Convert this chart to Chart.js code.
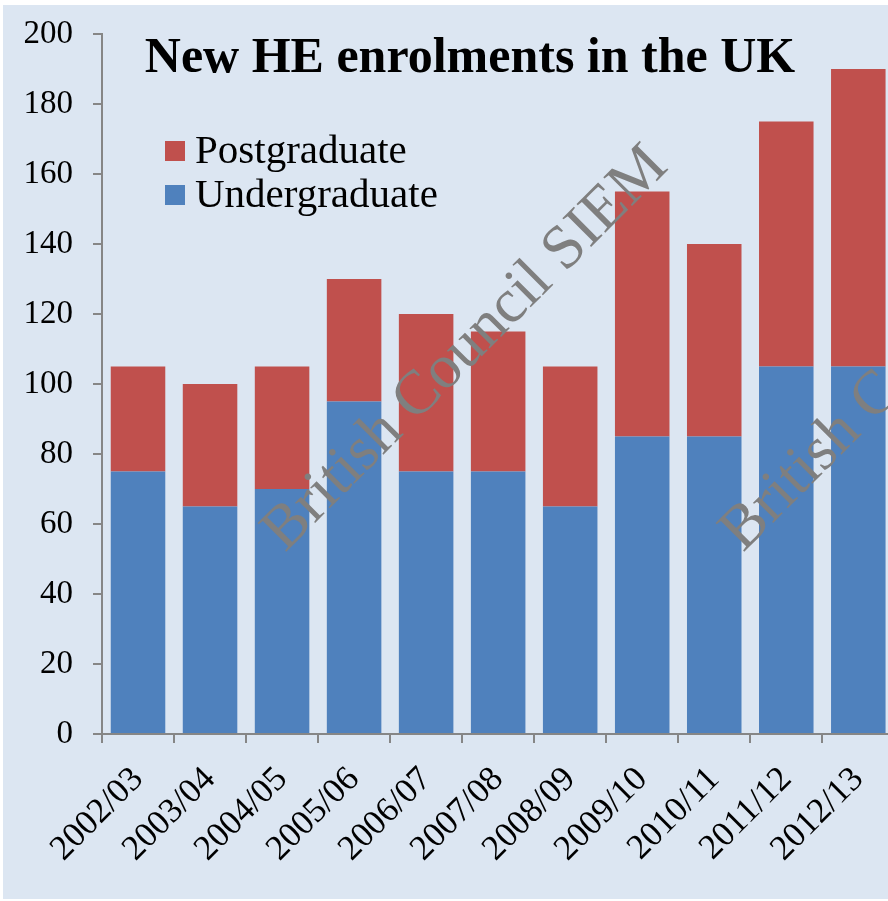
<!DOCTYPE html>
<html>
<head>
<meta charset="utf-8">
<script src="https://cdn.jsdelivr.net/npm/chart.js@4/dist/chart.umd.min.js"></script>
<style>
  html, body { margin: 0; padding: 0; background: #ffffff; overflow: hidden; width: 888px; height: 901px; }
  canvas { display: block; }
</style>
</head>
<body>
<canvas id="c" width="904" height="901"></canvas>
<script>
const categories = ['2002/03','2003/04','2004/05','2005/06','2006/07','2007/08','2008/09','2009/10','2010/11','2011/12','2012/13'];
const undergraduate = [75, 65, 70, 95, 75, 75, 65, 85, 85, 105, 105];
const postgraduate = [30, 35, 35, 35, 45, 40, 40, 70, 55, 70, 85];
const yTicks = [0, 20, 40, 60, 80, 100, 120, 140, 160, 180, 200];
const titleText = 'New HE enrolments in the UK';
const watermarkText = 'British Council SIEM';

const SERIF = '"Liberation Serif", "Times New Roman", serif';
const AXIS_GRAY = '#868686';

const bgPlugin = {
  id: 'bg',
  beforeDraw(chart) {
    const ctx = chart.ctx;
    ctx.save();
    ctx.fillStyle = '#ffffff';
    ctx.fillRect(0, 0, chart.width, chart.height);
    ctx.fillStyle = '#dce6f2';
    ctx.fillRect(3, 5, chart.width - 3, chart.height - 7);
    ctx.restore();
  }
};

const overlayPlugin = {
  id: 'overlay',
  afterDatasetsDraw(chart) {
    const ctx = chart.ctx;
    ctx.save();
    ctx.fillStyle = '#7f7f7f';
    ctx.font = '62px ' + SERIF;
    ctx.textAlign = 'left';
    ctx.textBaseline = 'alphabetic';
    [[285, 553], [743, 553]].forEach(([x, y]) => {
      ctx.save();
      ctx.translate(x, y);
      ctx.rotate(-Math.PI / 4);
      ctx.fillText(watermarkText, 0, 0);
      ctx.restore();
    });
    ctx.restore();
  },
  afterDraw(chart) {
    const ctx = chart.ctx;
    ctx.save();
    ctx.fillStyle = '#000000';
    ctx.font = 'bold 50px ' + SERIF;
    ctx.textAlign = 'center';
    ctx.textBaseline = 'alphabetic';
    ctx.fillText(titleText, 470, 72);
    const ds = chart.data.datasets.slice().reverse();
    ctx.font = '41px ' + SERIF;
    ctx.textAlign = 'left';
    ds.forEach((d, i) => {
      const top = 141 + i * 44;
      ctx.fillStyle = d.backgroundColor;
      ctx.fillRect(165, top, 20, 20);
      ctx.fillStyle = '#000000';
      ctx.fillText(d.label, 195, top + 22);
    });
    ctx.restore();
  }
};

new Chart(document.getElementById('c'), {
  type: 'bar',
  data: {
    labels: categories,
    datasets: [
      { label: 'Undergraduate', data: undergraduate, backgroundColor: '#4f81bd', borderWidth: 0, barPercentage: 0.757, categoryPercentage: 1.0 },
      { label: 'Postgraduate', data: postgraduate, backgroundColor: '#c0504d', borderWidth: 0, barPercentage: 0.757, categoryPercentage: 1.0 }
    ]
  },
  options: {
    responsive: false,
    animation: false,
    devicePixelRatio: 1,
    layout: { padding: { top: 0, left: 0, right: 0, bottom: 0 } },
    plugins: {
      legend: { display: false },
      title: { display: false },
      tooltip: { enabled: false }
    },
    scales: {
      x: {
        stacked: true,
        offset: true,
        grid: { display: true, offset: true, drawOnChartArea: false, drawTicks: true, tickLength: 9, color: AXIS_GRAY, lineWidth: 2 },
        border: { display: true, color: AXIS_GRAY, width: 2 },
        ticks: {
          autoSkip: false, maxRotation: 45, minRotation: 45, padding: 16,
          color: '#000000', font: { family: SERIF, size: 35 }
        },
        afterFit(scale) { scale.height = 167; }
      },
      y: {
        stacked: true,
        min: 0, max: 200,
        afterBuildTicks(scale) { scale.ticks = yTicks.map(v => ({ value: v })); },
        grid: { display: true, drawOnChartArea: false, drawTicks: true, tickLength: 9, color: AXIS_GRAY, lineWidth: 2 },
        border: { display: true, color: AXIS_GRAY, width: 2 },
        ticks: { padding: 20, color: '#000000', font: { family: SERIF, size: 33, lineHeight: 0.85 } },
        afterFit(scale) { scale.width = 102; }
      }
    }
  },
  plugins: [bgPlugin, overlayPlugin]
});
</script>
</body>
</html>
